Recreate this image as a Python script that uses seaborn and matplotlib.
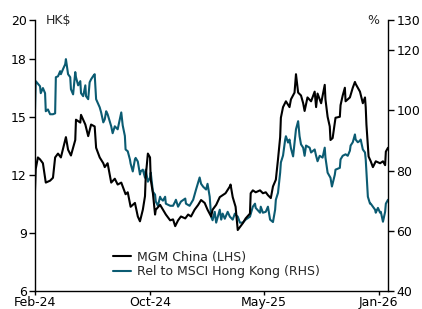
import pandas as pd
import matplotlib
matplotlib.use("Agg")
import matplotlib.pyplot as plt
import seaborn as sns

# trading-day index (Feb-24 = 0) and MGM China share price, HK$
mgm_day = [0, 1, 4, 7, 11, 15, 21, 25, 28, 32, 36, 42, 43, 46, 50, 56, 57, 63, 64, 70,
           74, 78, 83, 85, 90, 95, 97, 101, 106, 111, 115, 120, 122, 126, 129, 133, 139, 143, 146, 150,
           153, 154, 157, 160, 161, 164, 167, 168, 174, 178, 182, 188, 192, 195, 199, 203, 209, 213, 217, 222,
           227, 231, 236, 240, 245, 247, 252, 257, 261, 265, 271, 272, 275, 279, 282, 285, 289, 293, 299, 300,
           303, 307, 313, 317, 321, 324, 328, 331, 335, 338, 341, 342, 345, 349, 354, 356, 361, 363, 366, 370,
           373, 375, 379, 384, 389, 391, 393, 398, 403, 404, 407, 410, 411, 414, 417, 418, 424, 425, 428, 431,
           432, 438, 442, 445, 446, 452, 456, 459, 460, 461, 464, 467, 470, 474, 480, 484, 487, 488, 491]
mgm_price = [11.2, 12.3, 12.9, 12.8, 12.6, 11.6, 11.7, 11.85, 12.9, 13.1, 12.9, 13.8, 13.95, 13.3, 13.0, 13.8, 14.85, 14.7, 15.1, 14.6,
             14.0, 14.6, 14.5, 13.4, 12.9, 12.6, 12.4, 12.6, 11.6, 11.8, 11.5, 11.6, 11.4, 11.0, 11.1, 10.35, 10.55, 9.85, 9.6, 10.2,
             10.9, 11.9, 13.1, 12.9, 11.75, 11.05, 9.95, 10.2, 10.45, 10.2, 9.95, 9.65, 9.7, 9.35, 9.65, 9.85, 9.75, 9.95, 9.85, 10.2,
             10.45, 10.7, 10.55, 10.2, 9.85, 10.2, 10.45, 10.85, 10.95, 11.05, 11.4, 11.5, 10.85, 10.35, 9.15, 9.3, 9.5, 9.75, 10.0, 11.05,
             11.2, 11.1, 11.2, 11.05, 11.1, 10.95, 10.8, 11.4, 11.75, 12.8, 13.95, 14.95, 15.5, 15.8, 15.5, 15.9, 16.25, 17.2, 16.25, 16.1,
             15.7, 15.3, 16.0, 15.8, 16.3, 15.5, 16.2, 15.7, 16.65, 15.9, 15.0, 14.5, 13.8, 13.9, 14.7, 14.95, 15.0, 15.6, 16.1, 16.5,
             15.8, 16.0, 16.5, 16.8, 16.7, 16.3, 15.7, 16.0, 15.5, 14.6, 12.95, 12.7, 12.4, 12.7, 12.6, 12.7, 12.5, 13.2, 13.4]

# relative performance vs MSCI Hong Kong, %
rel_day = [0, 1, 7, 8, 11, 14, 15, 18, 21, 25, 28, 29, 32, 35, 36, 39, 42, 43, 46, 49,
           50, 53, 56, 57, 60, 63, 64, 67, 70, 71, 74, 76, 78, 81, 83, 85, 90, 92, 95, 97,
           99, 101, 106, 108, 111, 115, 118, 120, 122, 125, 126, 129, 132, 133, 136, 139, 140, 143, 146, 147,
           150, 153, 154, 157, 160, 161, 164, 167, 168, 171, 174, 175, 178, 181, 182, 188, 192, 195, 196, 199,
           203, 209, 210, 215, 220, 224, 229, 231, 234, 238, 240, 243, 245, 247, 250, 252, 257, 259, 261, 264,
           268, 271, 275, 278, 279, 282, 285, 289, 293, 299, 303, 306, 307, 313, 314, 317, 321, 324, 327, 331,
           334, 335, 338, 341, 342, 345, 348, 349, 352, 354, 356, 359, 361, 363, 366, 368, 370, 373, 375, 377,
           382, 384, 389, 391, 393, 396, 400, 403, 404, 407, 411, 413, 417, 418, 424, 425, 428, 432, 435, 438,
           439, 442, 445, 446, 449, 452, 453, 456, 459, 460, 463, 466, 467, 470, 473, 474, 477, 480, 481, 484,
           487, 488, 491]
rel_pct = [100.3, 109.7, 108.0, 105.7, 107.4, 105.7, 99.7, 100.3, 98.7, 98.7, 99.0, 111.0, 111.3, 113.0, 112.0, 113.7, 115.3, 117.0, 112.0, 111.0,
           107.0, 105.3, 112.7, 111.0, 108.3, 109.7, 105.7, 104.7, 108.3, 104.7, 103.7, 109.3, 110.3, 111.4, 112.0, 103.7, 101.0, 99.3, 96.0, 97.0,
           99.7, 98.7, 94.7, 92.4, 94.7, 93.7, 97.0, 99.3, 95.0, 91.5, 87.0, 86.4, 83.7, 82.3, 79.7, 83.7, 84.2, 83.0, 78.7, 79.7,
           80.3, 77.6, 80.3, 76.3, 77.6, 79.3, 73.0, 72.0, 69.7, 68.3, 71.3, 70.7, 70.0, 71.3, 69.0, 68.3, 68.3, 69.7, 70.3, 68.0,
           69.7, 70.7, 69.0, 68.3, 70.3, 73.7, 77.7, 75.6, 74.6, 73.7, 75.6, 71.3, 64.7, 63.5, 66.3, 62.7, 67.0, 63.7, 65.7, 64.0,
           66.3, 64.7, 63.7, 65.7, 65.3, 64.7, 62.7, 62.7, 63.7, 64.7, 68.0, 69.0, 67.6, 66.0, 68.0, 66.0, 66.3, 68.0, 63.7, 62.9,
           67.0, 70.3, 72.6, 79.3, 82.7, 85.0, 90.3, 91.4, 89.3, 90.3, 87.4, 84.7, 89.3, 93.7, 96.4, 91.4, 88.7, 87.6, 84.9, 88.3,
           87.6, 86.0, 87.0, 84.9, 83.1, 84.9, 84.3, 87.6, 84.3, 79.3, 77.6, 74.7, 78.6, 80.3, 80.9, 83.7, 84.9, 85.4, 84.9, 86.6,
           88.3, 89.4, 92.0, 90.3, 89.4, 89.9, 90.3, 87.0, 86.0, 83.7, 71.3, 69.0, 69.0, 68.0, 67.0, 66.0, 67.6, 66.0, 66.3, 63.0,
           66.3, 69.0, 70.3]

tick_days = [0, 160, 318, 478]
tick_labels = ["Feb-24", "Oct-24", "May-25", "Jan-26"]
left_ticks = [6, 9, 12, 15, 18, 20]
right_ticks = [40, 60, 80, 100, 120, 130]

mgm = pd.DataFrame({"day": mgm_day, "value": mgm_price})
rel = pd.DataFrame({"day": rel_day, "value": rel_pct})

sns.set_theme(style="ticks")
plt.rcParams["font.family"] = ["DejaVu Sans"]

TEAL = "#0b5b72"
FS = 9

fig = plt.figure(figsize=(4.22, 3.09), dpi=100)
ax = fig.add_axes([35 / 422, 18 / 309, 353 / 422, 271 / 309])
ax2 = ax.twinx()

sns.lineplot(data=mgm, x="day", y="value", ax=ax, color="black", linewidth=1.5,
             label="MGM China (LHS)", legend=False)
sns.lineplot(data=rel, x="day", y="value", ax=ax2, color=TEAL, linewidth=1.5,
             label="Rel to MSCI Hong Kong (RHS)", legend=False)
ax.set_zorder(ax2.get_zorder() + 1)
ax.patch.set_visible(False)

ax.set_xlim(0, 491)
ax.set_ylim(6, 20)
ax2.set_ylim(40, 130)
ax.set_xticks(tick_days)
ax.set_xticklabels(tick_labels)
ax.set_yticks(left_ticks)
ax2.set_yticks(right_ticks)
ax.set_xlabel("")
ax.set_ylabel("")
ax2.set_ylabel("")

for a in (ax, ax2):
    a.tick_params(axis="both", labelsize=FS, length=4, width=1, colors="black", pad=2)
    a.spines["top"].set_visible(False)
    for s in ("left", "right", "bottom"):
        a.spines[s].set_color("black")
        a.spines[s].set_linewidth(1)
ax.tick_params(axis="x", length=3, pad=0.5)
ax.spines["right"].set_visible(False)
ax2.spines["left"].set_visible(False)
ax2.spines["bottom"].set_visible(False)

ax.text(0.03, 1.0, "HK$", transform=ax.transAxes, fontsize=FS, va="center", ha="left")
ax2.text(0.975, 1.0, "%", transform=ax2.transAxes, fontsize=FS, va="center", ha="right")

h1, l1 = ax.get_legend_handles_labels()
h2, l2 = ax2.get_legend_handles_labels()
ax.legend(h1 + h2, l1 + l2, loc="lower left", bbox_to_anchor=(113 / 422, 0.1),
          bbox_transform=fig.transFigure, frameon=False, fontsize=FS,
          handlelength=1.4, handletextpad=0.5, labelspacing=0.1, borderpad=0,
          borderaxespad=0)

fig.savefig("out.png", dpi=100)
